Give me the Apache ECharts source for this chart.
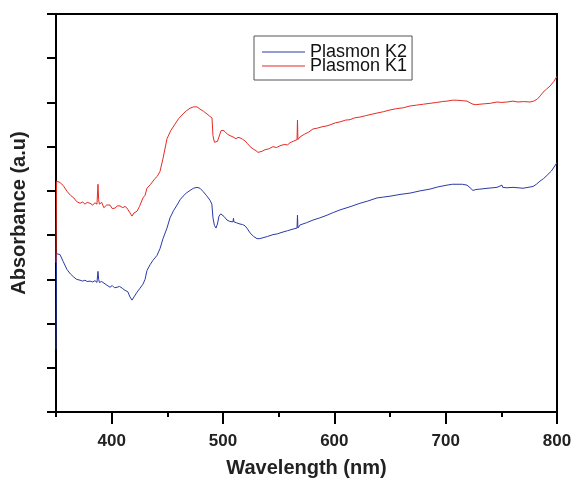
<!DOCTYPE html>
<html><head><meta charset="utf-8">
<script src="https://cdn.jsdelivr.net/npm/echarts@6/dist/echarts.min.js"></script>
<style>html,body{margin:0;padding:0;background:#fff}#c{width:575px;height:483px}</style>
</head><body><div id="c"></div>
<script>
var seriesNames = ['Plasmon K2', 'Plasmon K1'];
var xTickLabels = [400, 500, 600, 700, 800];

var k1Wavelength = [350,350.5,353.6,356.5,359.9,363,366,368.5,371.6,374,376,378,380.5,383,385,386.8,387.7,388.3,389,391,393,395.5,398.5,400.5,403,405,407.5,410,412,413.8,416,418.3,420,422.8,425,428.1,430,431.7,435,438.9,441,443.4,446.1,449.7,453,456.9,460,464.1,467,470.4,473.5,476.6,479.3,482.5,485.6,488,490.1,491,492.3,493.7,495,496.4,498.2,500,501.8,504,506.3,509,511.7,513.5,515.3,517.5,519.8,522,524.3,527,529.6,531.5,533.2,535.5,537.7,541,544.9,548,551.2,555,558,560.2,563,566.5,566.9,567.3,569.2,573,577,580.8,585,589,593.4,597,601,605.1,610,614,618,623,628,633,638.3,644,650,656,662,668,674,680,685.9,692,697,701.2,706,710.2,715,719.2,722,724.5,727,730.8,735,740,746.1,750.5,755,760.5,765,770,775.7,779,782,785,787.4,790.5,793.7,797,800];
var k1Absorbance = [3.38,5.22,5.19,5.12,4.99,4.90,4.84,4.76,4.72,4.75,4.70,4.74,4.72,4.68,4.73,4.70,5.15,4.80,4.70,4.74,4.62,4.68,4.68,4.60,4.61,4.66,4.66,4.62,4.65,4.61,4.52,4.43,4.50,4.54,4.65,4.84,4.90,5.06,5.15,5.28,5.33,5.44,5.73,6.18,6.36,6.51,6.63,6.74,6.81,6.87,6.90,6.90,6.85,6.80,6.74,6.69,6.65,6.25,6.10,6.07,6.12,6.22,6.36,6.37,6.34,6.28,6.25,6.22,6.18,6.21,6.20,6.17,6.13,6.07,6.00,5.95,5.91,5.87,5.89,5.90,5.93,5.95,6.00,5.98,6.02,6.05,6.04,6.09,6.12,6.16,6.60,6.16,6.22,6.28,6.33,6.40,6.42,6.45,6.47,6.50,6.54,6.56,6.60,6.61,6.65,6.67,6.70,6.73,6.76,6.79,6.83,6.86,6.88,6.92,6.94,6.96,6.98,7.00,7.02,7.03,7.05,7.05,7.04,7.03,6.99,6.96,6.95,6.96,6.97,6.98,7.01,7.00,7.01,7.03,7.01,7.02,7.01,7.03,7.07,7.15,7.23,7.30,7.37,7.47,7.59];

var k2Wavelength = [350,350.5,353.6,356.5,359.9,363,366,368.5,371.6,374,376,378,380.5,383,385,386.8,387.7,388.3,389,391,392.2,395,398.5,400.5,402.5,404.8,407,409.5,412,414.5,416.5,418.3,420.5,422.8,425.5,428.1,430,431.7,434.5,437.1,440.7,443.5,446.1,449.7,452.4,455.5,458.7,461.5,464.1,467,470.4,473.5,476.6,479.3,482,485,488.3,490,491,492.3,493.7,495,496.4,498,499.1,501,503.6,506,509,509.4,509.8,512,515.3,517.5,519.8,522,524.3,527.5,530.5,533,535.9,540,544.9,549,553.9,558,562,566.5,566.9,567.3,569.2,575,580.8,587,593.4,599,605.1,614,623,630,638.3,644,650,659,668,677,685.9,693,701.2,706,710.2,715,719.2,722,724.5,727,730.8,738,746.1,750.6,751.2,755,760.5,765,769.5,774,778.5,781.5,784.7,788,791,795,800];
var k2Absorbance = [1.41,3.58,3.56,3.40,3.22,3.12,3.05,3.00,2.98,2.96,2.98,2.95,2.96,2.94,2.97,2.93,3.18,3.00,2.93,2.95,2.93,2.88,2.82,2.86,2.81,2.82,2.84,2.80,2.75,2.72,2.60,2.53,2.62,2.71,2.80,2.89,3.00,3.20,3.33,3.43,3.54,3.70,3.92,4.16,4.39,4.55,4.68,4.80,4.88,4.95,5.01,5.06,5.08,5.06,4.99,4.90,4.79,4.70,4.39,4.22,4.16,4.25,4.43,4.48,4.48,4.42,4.34,4.31,4.30,4.38,4.30,4.28,4.25,4.24,4.21,4.14,4.05,3.97,3.92,3.92,3.94,3.97,4.01,4.03,4.07,4.10,4.13,4.16,4.45,4.16,4.23,4.28,4.34,4.39,4.45,4.51,4.57,4.64,4.72,4.77,4.84,4.86,4.88,4.92,4.95,5.00,5.04,5.09,5.13,5.15,5.15,5.15,5.13,5.07,5.01,5.03,5.04,5.06,5.08,5.13,5.08,5.07,5.08,5.07,5.06,5.08,5.10,5.15,5.22,5.28,5.35,5.45,5.64];

function pairs(xs, ys) { return xs.map(function (x, i) { return [x, ys[i]]; }); }

var FONT = '"Liberation Sans", Arial, sans-serif';
var chart = echarts.init(document.getElementById('c'), null, { renderer: 'canvas' });
chart.setOption({
  animation: false,
  backgroundColor: '#fff',
  grid: [
    { left: 56, right: 18, top: 14, bottom: 68, show: true, borderColor: '#000', borderWidth: 2, backgroundColor: 'transparent' },
    { left: 111.67, right: 18, top: 14, bottom: 68 }
  ],
  legend: {
    orient: 'vertical', left: 254, top: 36,
    padding: [7, 5, 5, 8],
    icon: 'rect',
    itemWidth: 43, itemHeight: 1, itemGap: -4,
    borderColor: '#555', borderWidth: 1,
    textStyle: { fontSize: 18, lineHeight: 14, color: '#111', fontFamily: FONT },
    data: seriesNames
  },
  xAxis: [
    {
      gridIndex: 0, type: 'value', min: 350, max: 800, interval: 50,
      axisLine: { show: true, lineStyle: { color: '#000', width: 2 } },
      axisTick: { show: true, length: 5, lineStyle: { color: '#000', width: 2 } },
      axisLabel: { show: false },
      splitLine: { show: false },
      name: 'Wavelength (nm)', nameLocation: 'middle', nameGap: 46,
      nameTextStyle: { fontSize: 20, fontWeight: 'bold', color: '#222', fontFamily: FONT }
    },
    {
      gridIndex: 1, type: 'value', min: xTickLabels[0], max: xTickLabels[xTickLabels.length - 1], interval: 100,
      axisLine: { show: false },
      axisTick: { show: true, length: 9, lineStyle: { color: '#000', width: 2 } },
      axisLabel: { show: true, fontSize: 17, fontWeight: 'bold', color: '#222', margin: 18, fontFamily: FONT },
      splitLine: { show: false }
    }
  ],
  yAxis: [
    {
      gridIndex: 0, type: 'value', min: 0, max: 9, interval: 1,
      axisLine: { show: true, lineStyle: { color: '#000', width: 2 } },
      axisTick: { show: true, length: 9, lineStyle: { color: '#000', width: 2 } },
      axisLabel: { show: false },
      splitLine: { show: false },
      name: 'Absorbance (a.u)', nameLocation: 'middle', nameGap: 27,
      nameTextStyle: { fontSize: 20, fontWeight: 'bold', color: '#222', fontFamily: FONT }
    },
    { gridIndex: 1, type: 'value', min: 0, max: 9, show: false }
  ],
  series: [
    {
      name: seriesNames[0], type: 'line', xAxisIndex: 0, yAxisIndex: 0,
      symbol: 'none', color: '#2a3aa6', lineStyle: { width: 1, color: '#2a3aa6' },
      data: pairs(k2Wavelength, k2Absorbance)
    },
    {
      name: seriesNames[1], type: 'line', xAxisIndex: 0, yAxisIndex: 0,
      symbol: 'none', color: '#e52b24', lineStyle: { width: 1, color: '#e52b24' },
      data: pairs(k1Wavelength, k1Absorbance)
    }
  ]
});
</script>
</body></html>
